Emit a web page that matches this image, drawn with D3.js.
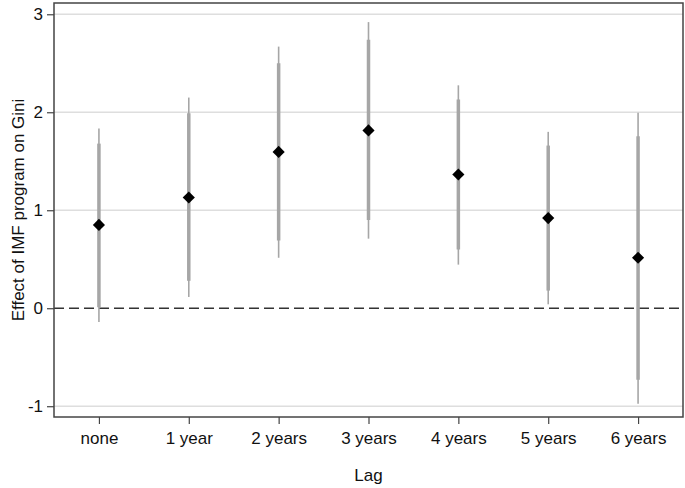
<!DOCTYPE html>
<html>
<head>
<meta charset="utf-8">
<script src="https://cdn.jsdelivr.net/npm/d3@7"></script>
<style>
  html, body { margin: 0; padding: 0; background: #fff; }
  svg { display: block; font-family: "Liberation Sans", Arial, Helvetica, sans-serif; }
</style>
</head>
<body>
<svg id="chart" width="685" height="488"></svg>
<script>
// ---- data ----
const categories = ["none", "1 year", "2 years", "3 years", "4 years", "5 years", "6 years"];
const estimates  = [0.85, 1.13, 1.595, 1.815, 1.365, 0.92, 0.515];
const ci90Low    = [0.01, 0.28, 0.69, 0.90, 0.60, 0.18, -0.73];
const ci90High   = [1.68, 1.99, 2.50, 2.74, 2.13, 1.66, 1.755];
const ci95Low    = [-0.14, 0.115, 0.515, 0.71, 0.445, 0.04, -0.975];
const ci95High   = [1.835, 2.15, 2.67, 2.92, 2.275, 1.80, 1.995];
const yTicks     = [-1, 0, 1, 2, 3];
const xTitle = "Lag";
const yTitle = "Effect of IMF program on Gini";

const rows = categories.map((c, i) => ({
  cat: c, est: estimates[i],
  lo90: ci90Low[i], hi90: ci90High[i],
  lo95: ci95Low[i], hi95: ci95High[i]
}));

// ---- layout ----
const svg = d3.select("#chart");
const pL = 54, pR = 683, pT = 3, pB = 417;

const x = d3.scalePoint().domain(categories).range([pL, pR]).padding(0.5);
const y = d3.scaleLinear().domain([-1.11, 3.115]).range([pB, pT]);

// gridlines (except zero)
svg.append("g")
  .selectAll("line")
  .data(yTicks.filter(d => d !== 0))
  .join("line")
  .attr("x1", pL).attr("x2", pR)
  .attr("y1", d => y(d)).attr("y2", d => y(d))
  .attr("stroke", "#dedede").attr("stroke-width", 1.5);

// zero dashed line
svg.append("line")
  .attr("x1", pL).attr("x2", pR)
  .attr("y1", y(0)).attr("y2", y(0))
  .attr("stroke", "#333").attr("stroke-width", 1.5)
  .attr("stroke-dasharray", "10,5");

// 95% CI thin
svg.append("g").selectAll("line")
  .data(rows).join("line")
  .attr("x1", d => x(d.cat)).attr("x2", d => x(d.cat))
  .attr("y1", d => y(d.lo95)).attr("y2", d => y(d.hi95))
  .attr("stroke", "#a6a6a6").attr("stroke-width", 1.6);

// 90% CI thick
svg.append("g").selectAll("line")
  .data(rows).join("line")
  .attr("x1", d => x(d.cat)).attr("x2", d => x(d.cat))
  .attr("y1", d => y(d.lo90)).attr("y2", d => y(d.hi90))
  .attr("stroke", "#a6a6a6").attr("stroke-width", 3.5);

// point estimates: diamonds
const sym = d3.symbol().type(d3.symbolSquare).size(74);
svg.append("g").selectAll("path")
  .data(rows).join("path")
  .attr("d", sym)
  .attr("transform", d => `translate(${x(d.cat)},${y(d.est)}) rotate(45)`)
  .attr("fill", "#000");

// frame
svg.append("rect")
  .attr("x", pL).attr("y", pT)
  .attr("width", pR - pL).attr("height", pB - pT)
  .attr("fill", "none").attr("stroke", "#444").attr("stroke-width", 1.5);

// axes
const yAxis = svg.append("g")
  .attr("transform", `translate(${pL},0)`)
  .call(d3.axisLeft(y).tickValues(yTicks).tickFormat(d => String(d)).tickSize(7).tickPadding(4));
yAxis.select(".domain").remove();
yAxis.selectAll(".tick line").attr("stroke", "#444").attr("stroke-width", 1.2);
yAxis.selectAll(".tick text").attr("font-size", 17).attr("fill", "#111")
  .attr("font-family", "'Liberation Sans', Arial, sans-serif");

const xAxis = svg.append("g")
  .attr("transform", `translate(0,${pB})`)
  .call(d3.axisBottom(x).tickSize(7).tickPadding(8));
xAxis.select(".domain").remove();
xAxis.selectAll(".tick line").attr("stroke", "#444").attr("stroke-width", 1.2);
xAxis.selectAll(".tick text").attr("font-size", 17).attr("fill", "#111")
  .attr("font-family", "'Liberation Sans', Arial, sans-serif");

// titles
svg.append("text")
  .attr("x", (pL + pR) / 2).attr("y", 481)
  .attr("text-anchor", "middle").attr("font-size", 17).attr("fill", "#111")
  .text(xTitle);

svg.append("text")
  .attr("transform", `translate(24,${(pT + pB) / 2}) rotate(-90)`)
  .attr("text-anchor", "middle").attr("font-size", 17).attr("fill", "#111")
  .text(yTitle);
</script>
</body>
</html>
